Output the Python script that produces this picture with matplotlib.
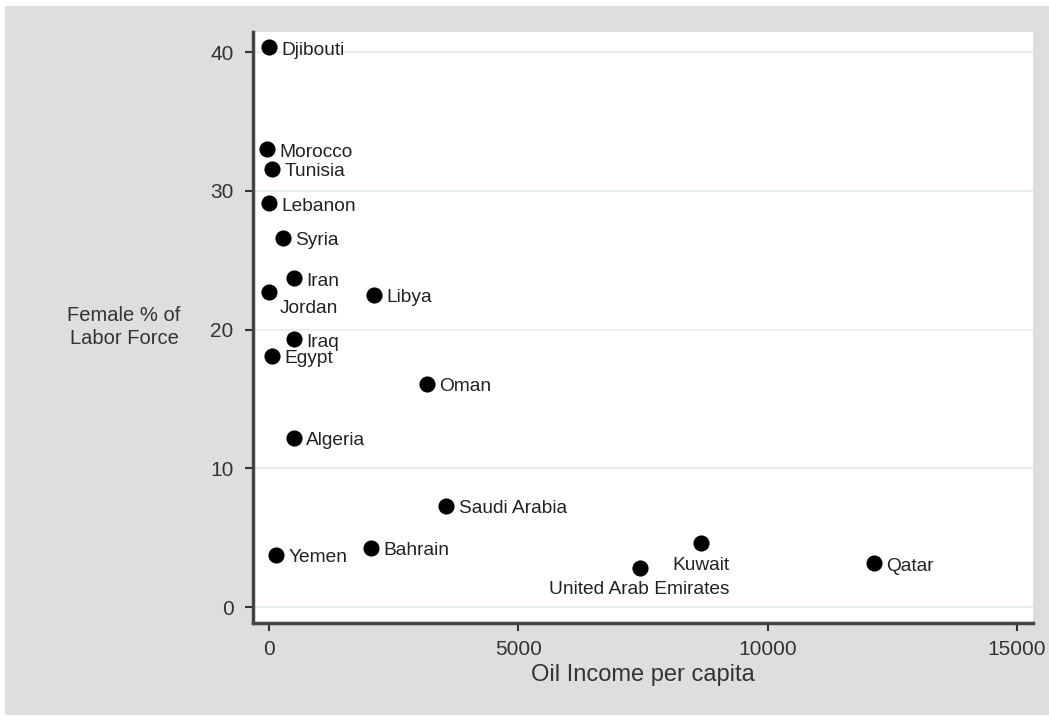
import matplotlib.pyplot as plt
from matplotlib.patches import Rectangle

countries = ["Djibouti", "Morocco", "Tunisia", "Lebanon", "Syria", "Iran",
             "Jordan", "Libya", "Iraq", "Egypt", "Oman", "Algeria",
             "Saudi Arabia", "Bahrain", "Yemen", "United Arab Emirates",
             "Kuwait", "Qatar"]
oil_income = [0, -40, 60, -10, 280, 500, -10, 2110, 500, 60, 3170, 500,
              3550, 2050, 140, 7430, 8655, 12130]
female_labor = [40.35, 33.0, 31.6, 29.1, 26.6, 23.7, 22.7, 22.5, 19.3, 18.1,
                16.1, 12.2, 7.3, 4.25, 3.75, 2.85, 4.6, 3.15]
# where each label sits relative to its marker
label_pos = {"Jordan": "below right", "Kuwait": "below",
             "United Arab Emirates": "below"}

x_ticks = [0, 5000, 10000, 15000]
y_ticks = [0, 10, 20, 30, 40]


def main():
    plt.rcParams['font.family'] = ['Liberation Sans', 'DejaVu Sans']
    fig = plt.figure(figsize=(10.49, 7.17), dpi=100, facecolor="white")
    fig.add_artist(Rectangle((5 / 1049, 0.003), 1, 1 - 6 / 717 - 0.003,
                             transform=fig.transFigure,
                             facecolor="#dedede", edgecolor="none",
                             zorder=-5))

    ax = fig.add_axes([253 / 1049, 1 - 623 / 717, 780 / 1049, 591 / 717])
    ax.set_facecolor("white")

    ax.scatter(oil_income, female_labor, s=135, color="black", zorder=3,
               linewidths=0)

    for name, x, y in zip(countries, oil_income, female_labor):
        pos = label_pos.get(name, "right")
        if pos == "right":
            ax.annotate(name, (x, y), xytext=(9, -2), textcoords="offset points",
                        ha="left", va="center", fontsize=13.8, color="#222222")
        elif pos == "below":
            ax.annotate(name, (x, y), xytext=(0, -10), textcoords="offset points",
                        ha="center", va="top", fontsize=13.8, color="#222222")
        else:
            ax.annotate(name, (x, y), xytext=(8, -6), textcoords="offset points",
                        ha="left", va="top", fontsize=13.8, color="#222222")

    ax.set_xlim(-321, 15321)
    ax.set_ylim(-1.15, 41.45)
    ax.set_xticks(x_ticks)
    ax.set_yticks(y_ticks)
    ax.tick_params(labelsize=15, colors="#333333", length=6, width=1.5,
                   direction="out")
    ax.tick_params(axis="y", pad=8)
    ax.tick_params(axis="x", pad=6)

    ax.grid(axis="y", color="#e8f1f2", linewidth=1.5)
    ax.set_axisbelow(True)

    for side in ["top", "right"]:
        ax.spines[side].set_visible(False)
    for side in ["left", "bottom"]:
        ax.spines[side].set_color("#444444")
        ax.spines[side].set_linewidth(2.5)

    ax.set_xlabel("Oil Income per capita", fontsize=17, color="#333333",
                  labelpad=4)
    fig.text(124 / 1049, 1 - 327 / 717, "Female % of\nLabor Force",
             ha="center", va="center", fontsize=14.5, color="#333333",
             linespacing=1.25)

    fig.savefig("out.png", dpi=100, facecolor=fig.get_facecolor())


if __name__ == "__main__":
    main()
